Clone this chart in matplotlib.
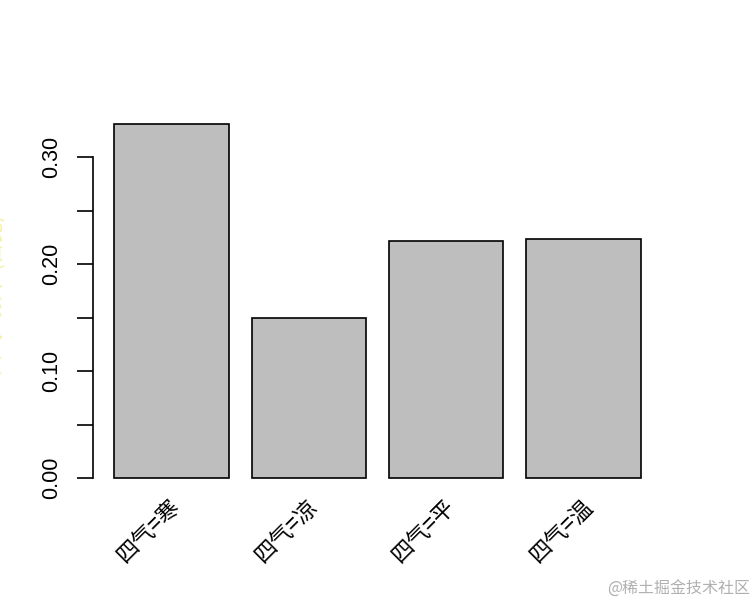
import numpy as np
import matplotlib
matplotlib.use("Agg")
import matplotlib.pyplot as plt
import matplotlib.transforms as mtransforms

plt.rcParams['font.family'] = ['Liberation Sans', 'Noto Sans CJK SC', 'DejaVu Sans']

# data
categories = ['四气=寒', '四气=凉', '四气=平', '四气=温']
values = [0.331, 0.150, 0.2215, 0.2234]
yticks = [0.00, 0.05, 0.10, 0.15, 0.20, 0.25, 0.30]
ylabels = ['0.00', '', '0.10', '', '0.20', '', '0.30']

fig = plt.figure(figsize=(7.56, 6.06), dpi=100)
ax = fig.add_axes([93 / 756, 1 - 492 / 606, (662 - 93) / 756, (492 - 110) / 606])

# barplot layout like R: width 1, space 0.2
pos = 0.7 + 1.2 * np.arange(len(categories))
ax.bar(pos, values, width=1.0, color='#bebebe', edgecolor='black', linewidth=1.2)

ax.set_xlim(0.016, 4.984)
ax.set_ylim(-0.0131, 0.344)

for s in ['top', 'right', 'bottom']:
    ax.spines[s].set_visible(False)
ax.spines['left'].set_bounds(0, 0.30)
ax.spines['left'].set_linewidth(1.2)

ax.set_yticks(yticks)
ax.set_yticklabels(ylabels, rotation=90, va='center', fontsize=15.5)
ax.tick_params(axis='y', length=11.5, width=1.2, pad=11)

ax.set_xticks(pos)
ax.set_xticklabels(categories, rotation=45, ha='right', va='center', rotation_mode='anchor',
                   fontsize=16, family=['Noto Sans CJK SC', 'DejaVu Sans'])
ax.tick_params(axis='x', length=0, pad=8)
shift = mtransforms.ScaledTranslation(5 / 100, 0, fig.dpi_scale_trans)
for lab in ax.get_xticklabels():
    lab.set_transform(lab.get_transform() + shift)

# y label, mostly cut off at the left edge (as in the reference)
fig.text(6 / 756, 1 - 295 / 606, '四气 - 频率 (占比)', rotation=90, ha='right', va='center',
         color='#f5f0a0', fontsize=15, family=['Noto Sans CJK SC', 'DejaVu Sans'])

# watermark
fig.text(750 / 756, 1 - 589 / 606, '@稀土掘金技术社区', ha='right', va='center',
         color='#b0b0b0', fontsize=11.5, family=['Noto Sans CJK SC', 'DejaVu Sans'])

fig.savefig('out.png', dpi=100)
